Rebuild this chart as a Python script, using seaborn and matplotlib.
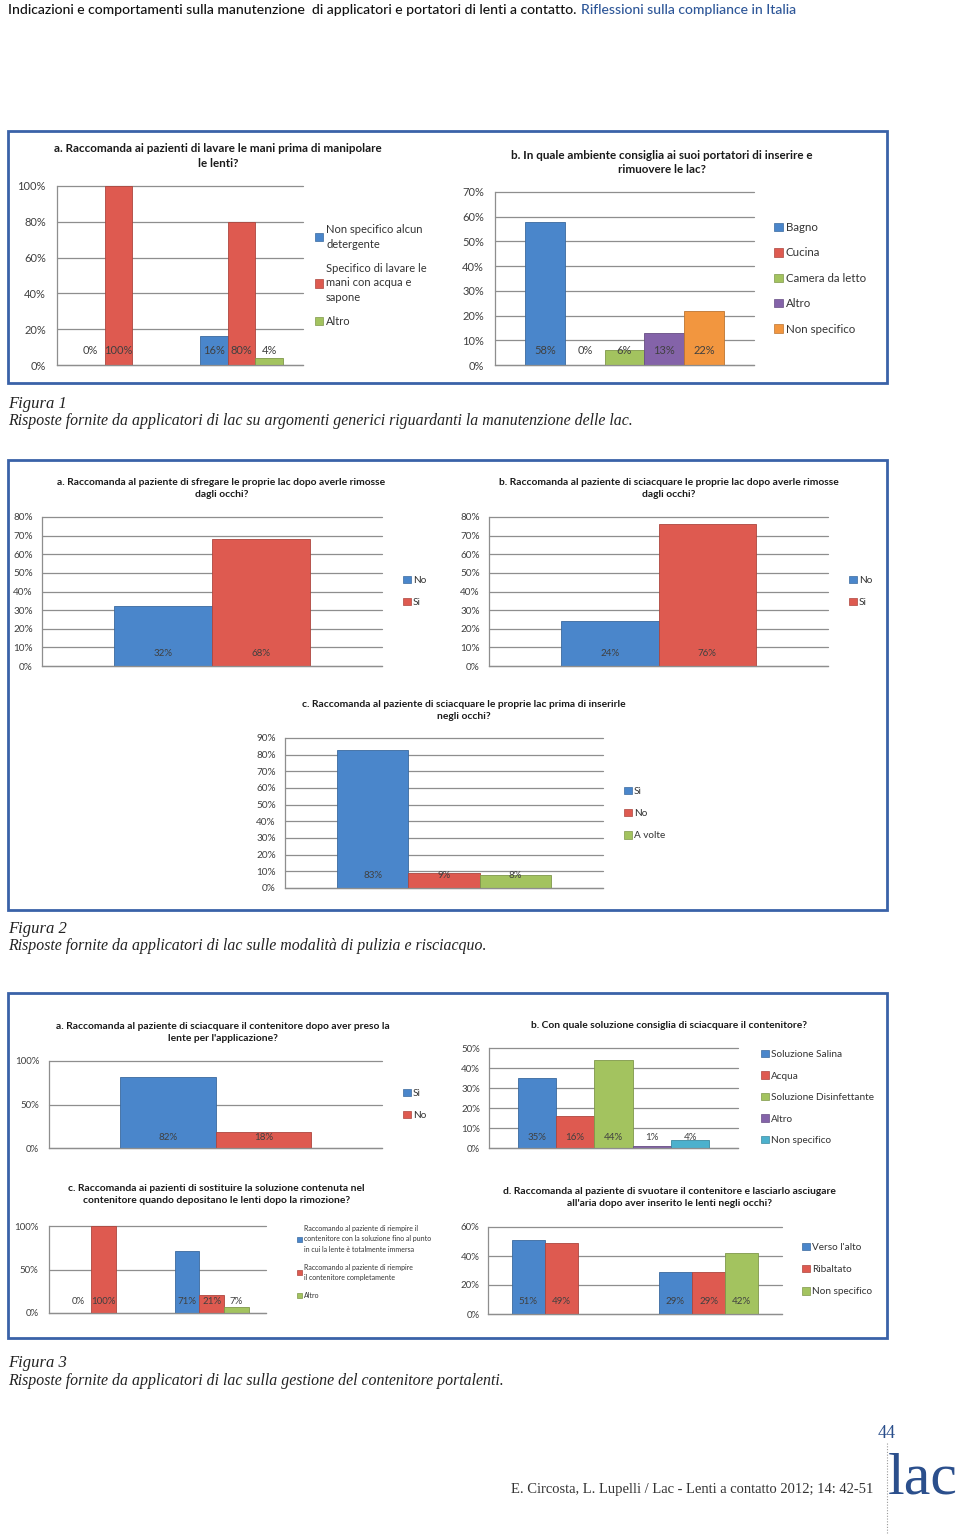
import numpy as np
import pandas as pd
import matplotlib
matplotlib.use("Agg")
import matplotlib.pyplot as plt
import seaborn as sns
from matplotlib.patches import Patch, Rectangle
from matplotlib.lines import Line2D
from matplotlib.ticker import PercentFormatter
from matplotlib import colors as mcolors

# ---------------- DATA ----------------
BLUE, RED, GREEN, PURPLE, ORANGE, CYAN = "#4A86CB", "#DE5A50", "#A3C35F", "#8463A9", "#F2963F", "#4CB1CD"

# Figura 1a
f1a_groups = ["g1", "g2"]
f1a_series = ["Non specifico alcun\ndetergente", "Specifico di lavare le\nmani con acqua e\nsapone", "Altro"]
f1a_nonspec = [0, 16]
f1a_acqua = [100, 80]
f1a_altro = [np.nan, 4]

# Figura 1b
f1b_series = ["Bagno", "Cucina", "Camera da letto", "Altro", "Non specifico"]
f1b_values = [58, 0, 6, 13, 22]

# Figura 2a / 2b / 2c
f2a_series = ["No", "Si"]
f2a_values = [32, 68]
f2b_series = ["No", "Si"]
f2b_values = [24, 76]
f2c_series = ["Sì", "No", "A volte"]
f2c_values = [83, 9, 8]

# Figura 3a / 3b
f3a_series = ["Sì", "No"]
f3a_values = [82, 18]
f3b_series = ["Soluzione Salina", "Acqua", "Soluzione Disinfettante", "Altro", "Non specifico"]
f3b_values = [35, 16, 44, 1, 4]

# Figura 3c
f3c_groups = ["g1", "g2"]
f3c_series = ["Raccomando al paziente di riempire il\ncontenitore con la soluzione fino al punto\nin cui la lente è totalmente immersa",
              "Raccomando al paziente di riempire\nil contenitore completamente", "Altro"]
f3c_immersa = [0, 71]
f3c_completo = [100, 21]
f3c_altro = [np.nan, 7]

# Figura 3d
f3d_groups = ["g1", "g2"]
f3d_series = ["Verso l'alto", "Ribaltato", "Non specifico"]
f3d_alto = [51, 29]
f3d_ribaltato = [49, 29]
f3d_nonspec = [np.nan, 42]

# ---------------- STYLE ----------------
sns.set_style("white")
plt.rcParams["font.family"] = ["Lato", "DejaVu Sans"]

W, H = 960, 1535
fig = plt.figure(figsize=(W / 100, H / 100), dpi=100)
fig.patch.set_facecolor("white")

TXT = "#404040"
GRID = "#8e8e8e"
SERIF = ["Liberation Serif", "DejaVu Serif"]


def darker(c, f=0.78):
    r, g, b = mcolors.to_rgb(c)
    return (r * f, g * f, b * f)


def fy(y):
    return 1 - y / H


def bar_chart(rect, groups, series, values, colors, ymax, step, width,
              tick_fs, lbl_fs, pad, lbl_off, leg_xy, leg_fs, leg_sp, leg_ls=1.2):
    x0, x1, yt, yb = rect
    ax = fig.add_axes([x0 / W, 1 - yb / H, (x1 - x0) / W, (yb - yt) / H])
    rows = []
    for gi, g in enumerate(groups):
        for s, vals in zip(series, values):
            v = vals[gi]
            if v is not None and np.isfinite(v):
                rows.append({"grp": g, "ser": s, "val": float(v)})
    df = pd.DataFrame(rows)
    sns.barplot(data=df, x="grp", y="val", hue="ser", order=groups, hue_order=series,
                palette=dict(zip(series, colors)), width=width, saturation=1,
                errorbar=None, legend=False, ax=ax)
    ax.set_xlim(-0.5, len(groups) - 0.5)
    ax.set_ylim(0, ymax)
    ax.set_yticks(np.arange(0, ymax + step / 2, step))
    ax.yaxis.set_major_formatter(PercentFormatter(100, decimals=0))
    ax.tick_params(axis="y", length=0, pad=pad, labelsize=tick_fs, labelcolor=TXT)
    ax.set_xticks([])
    ax.set_xlabel("")
    ax.set_ylabel("")
    ax.yaxis.grid(True, color=GRID, lw=0.9)
    ax.xaxis.grid(False)
    for gl in ax.get_ygridlines():
        gl.set_clip_on(False)
    ax.set_axisbelow(True)
    for sp in ["top", "right"]:
        ax.spines[sp].set_visible(False)
    for sp in ["left", "bottom"]:
        ax.spines[sp].set_color(GRID)
        ax.spines[sp].set_linewidth(0.9)
    for p in ax.patches:
        h = p.get_height()
        if not np.isfinite(h):
            continue
        p.set_edgecolor(darker(p.get_facecolor()))
        p.set_linewidth(0.6)
        ax.annotate(f"{h:.0f}%", (p.get_x() + p.get_width() / 2, 0), xytext=(0, lbl_off),
                    textcoords="offset pixels", ha="center", va="center",
                    fontsize=lbl_fs, color=TXT, annotation_clip=False)
    handles = [Patch(facecolor=c, edgecolor=darker(c), lw=0.5) for c in colors]
    leg = ax.legend(handles, series, loc="upper left",
                    bbox_to_anchor=(leg_xy[0] / W, fy(leg_xy[1])),
                    bbox_transform=fig.transFigure, frameon=False, fontsize=leg_fs,
                    labelspacing=leg_sp, handlelength=0.75, handleheight=0.75,
                    handletextpad=0.25, borderpad=0, borderaxespad=0, labelcolor="#333333")
    for t in leg.get_texts():
        t.set_linespacing(leg_ls)
    return ax


def title(cx, cy, text, fs, ls=1.42):
    fig.text(cx / W, fy(cy), text, ha="center", va="center", fontsize=fs,
             fontweight="bold", color="#1a1a1a", linespacing=ls, multialignment="center")


def box(x0, x1, y0, y1):
    fig.add_artist(Rectangle((x0 / W, fy(y1)), (x1 - x0) / W, (y1 - y0) / H,
                             transform=fig.transFigure, fill=False,
                             edgecolor="#3A62A8", lw=2))


def caption(y1, y2, head, text, fs=11.4):
    fig.text(8 / W, fy(y1), head, ha="left", va="center", fontsize=fs + 0.6,
             style="italic", family=SERIF, color="#222222")
    fig.text(8 / W, fy(y2), text, ha="left", va="center", fontsize=fs,
             style="italic", family=SERIF, color="#222222")


# ---------------- FIGURA 1 ----------------
box(8, 887, 131, 383)
bar_chart((57, 303, 186, 365), f1a_groups, f1a_series, [f1a_nonspec, f1a_acqua, f1a_altro],
          [BLUE, RED, GREEN], 100, 20, 0.68, 8, 8, 8, 14, (315, 224), 8, 1.18, 1.4)
title(218, 156, "a. Raccomanda ai pazienti di lavare le mani prima di manipolare\nle lenti?", 8.4)

bar_chart((495, 754, 192, 365), ["g"], f1b_series, [[v] for v in f1b_values],
          [BLUE, RED, GREEN, PURPLE, ORANGE], 70, 10, 0.766, 8, 8, 8, 15, (774, 222), 8.3, 1.25)
title(662, 162.5, "b. In quale ambiente consiglia ai suoi portatori di inserire e\nrimuovere le lac?", 8.4)

caption(404, 421, "Figura 1",
        "Risposte fornite da applicatori di lac su argomenti generici riguardanti la manutenzione delle lac.")

# ---------------- FIGURA 2 ----------------
box(8, 887, 460, 910)
bar_chart((42, 382, 517, 666), ["g"], f2a_series, [[v] for v in f2a_values],
          [BLUE, RED], 80, 10, 0.574, 7.2, 7, 6.5, 12, (403, 576), 7.2, 1.3)
title(221.5, 488.5, "a. Raccomanda al paziente di sfregare le proprie lac dopo averle rimosse\ndagli occhi?", 7.35)

bar_chart((489, 828, 517, 666), ["g"], f2b_series, [[v] for v in f2b_values],
          [BLUE, RED], 80, 10, 0.575, 7.2, 7, 6.5, 12, (849, 576), 7.2, 1.3)
title(669, 488.5, "b. Raccomanda al paziente di sciacquare le proprie lac dopo averle rimosse\ndagli occhi?", 7.35)

bar_chart((285, 603, 738, 888), ["g"], f2c_series, [[v] for v in f2c_values],
          [BLUE, RED, GREEN], 90, 10, 0.67, 7.2, 7, 6.5, 12, (624, 787), 7.2, 1.3)
title(463.5, 710.5, "c. Raccomanda al paziente di sciacquare le proprie lac prima di inserirle\nnegli occhi?", 7.35)

caption(929, 946, "Figura 2",
        "Risposte fornite da applicatori di lac sulle modalità di pulizia e risciacquo.")

# ---------------- FIGURA 3 ----------------
box(8, 887, 993, 1338)
bar_chart((49, 382, 1061, 1148), ["g"], f3a_series, [[v] for v in f3a_values],
          [BLUE, RED], 100, 50, 0.574, 7, 7, 7, 11, (403, 1089), 7.2, 1.3)
title(222.5, 1032.5, "a. Raccomanda al paziente di sciacquare il contenitore dopo aver preso la\nlente per l'applicazione?", 7.35)

bar_chart((489, 738, 1048, 1148), ["g"], f3b_series, [[v] for v in f3b_values],
          [BLUE, RED, GREEN, PURPLE, CYAN], 50, 10, 0.77, 7, 7, 6.5, 11, (761, 1050), 7.2, 1.23)
title(669, 1026, "b. Con quale soluzione consiglia di sciacquare il contenitore?", 7.35)

bar_chart((49, 266, 1226, 1313), f3c_groups, f3c_series, [f3c_immersa, f3c_completo, f3c_altro],
          [BLUE, RED, GREEN], 100, 50, 0.68, 7, 7, 7.5, 11, (297, 1225), 5.0, 1.6, 1.55)
title(216.5, 1194.5, "c. Raccomanda ai pazienti di sostituire la soluzione contenuta nel\ncontenitore quando depositano le lenti dopo la rimozione?", 7.35)

bar_chart((488, 782, 1227, 1314), f3d_groups, f3d_series, [f3d_alto, f3d_ribaltato, f3d_nonspec],
          [BLUE, RED, GREEN], 60, 20, 0.68, 7, 7, 6, 12, (802, 1243), 7.2, 1.3)
title(669.5, 1197.5, "d. Raccomanda al paziente di svuotare il contenitore e lasciarlo asciugare\nall'aria dopo aver inserito le lenti negli occhi?", 7.35)

caption(1363, 1381, "Figura 3",
        "Risposte fornite da applicatori di lac sulla gestione del contenitore portalenti.")

# ---------------- HEADER ----------------
head1 = "Indicazioni e comportamenti sulla manutenzione  di applicatori e portatori di lenti a contatto."
head2 = "Riflessioni sulla compliance in Italia"
HEAD_FAMILY = ["Lato", "DejaVu Sans"]
t1 = fig.text(8 / W, fy(10), head1, ha="left", va="center", fontsize=13,
              family=HEAD_FAMILY, fontweight="medium", color="#111111")
fig.canvas.draw()
r = fig.canvas.get_renderer()
w1 = t1.get_window_extent(r).width
fs = min(14, 13 * (575 - 8) / w1)
t1.set_fontsize(fs)
fig.canvas.draw()
e1 = t1.get_window_extent(r)
fig.text((e1.x1 + 5) / W, fy(10), head2, ha="left", va="center", fontsize=fs,
         family=HEAD_FAMILY, fontweight="medium", color="#2D5698")

# ---------------- FOOTER ----------------
fig.text(873 / W, fy(1490), "E. Circosta, L. Lupelli / Lac - Lenti a contatto 2012; 14: 42-51",
         ha="right", va="center", fontsize=10.5, family=SERIF, color="#333333")
fig.text(887 / W, fy(1433), "44", ha="center", va="center", fontsize=13,
         family=SERIF, color="#2B4F8C")
fig.text(958 / W, fy(1494), "lac", ha="right", va="baseline", fontsize=43,
         family=SERIF, color="#2B4F8C")
fig.add_artist(Line2D([887 / W, 887 / W], [fy(1443), 0], transform=fig.transFigure,
                      color="#9a9a9a", lw=0.8, ls=(0, (1, 1.5))))

fig.savefig("out.png", dpi=100)
